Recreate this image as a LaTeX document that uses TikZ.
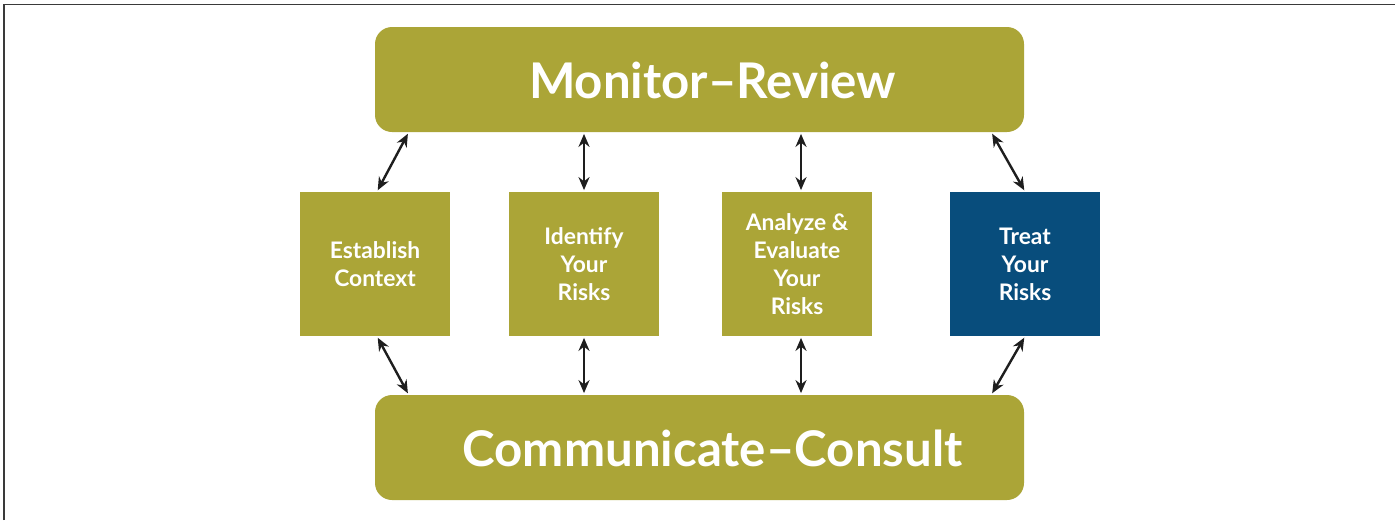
\documentclass[tikz,border=0pt]{standalone}
\usepackage{fontspec}
\setmainfont{Lato}
\usetikzlibrary{arrows.meta,positioning}
\definecolor{riskolive}{HTML}{ABA537}
\definecolor{riskblue}{HTML}{084D7C}
\definecolor{linkgray}{HTML}{1E1E1E}
\definecolor{framegray}{HTML}{3A3A3A}

\begin{document}
\begin{tikzpicture}[x=0.5pt, y=-0.5pt,
    phase/.style={fill=riskolive, minimum width=324.5pt, minimum height=52.5pt,
                  rounded corners=8.5pt, inner sep=0pt},
    phasetext/.style={text=white, xshift=6.5pt, yshift=-0.5pt, font=\bfseries\fontsize{24.6}{30}\selectfont},
    stage/.style={fill=riskolive, text=white, minimum width=75pt, minimum height=72pt,
                  inner sep=0pt, align=center, font=\bfseries\fontsize{11.4}{14}\selectfont},
    link/.style={{Stealth[length=6.5pt,width=5.5pt]}-{Stealth[length=6.5pt,width=5.5pt]},
                 line width=1.2pt, draw=linkgray, shorten <=0.75pt, shorten >=0.75pt}]
  \useasboundingbox (0,0) rectangle (1395,520);
  % frame (top and left edges only)
  \draw[framegray, line width=0.75pt] (4,520) -- (4,4.5) -- (1395,4.5);

  % the two long bars
  \node[phase, label={[phasetext]center:Monitor--Review}] (monitor) at (699.5,79.5) {};
  \node[phase, label={[phasetext]center:Communicate--Consult}] (consult) at (699.5,447.5) {};

  % the four steps
  \node[stage] (establish) at (375,264) {Establish\\Context};
  \node[stage] (identify) at (584,264) {Identify\\Your\\Risks};
  \node[stage] (analyze) at (797,264) {Analyze \&\\Evaluate\\Your\\Risks};
  \node[stage, fill=riskblue] (treat) at (1025,264) {Treat\\Your\\Risks};

  % links
  \draw[link] ([xshift=1pt]establish.north) -- ([xshift=17pt]monitor.south west);
  \draw[link] ([xshift=1pt]establish.south) -- ([xshift=17pt]consult.north west);
  \draw[link] (identify.north) -- (identify.north |- monitor.south);
  \draw[link] (identify.south) -- (identify.south |- consult.north);
  \draw[link] ([xshift=2pt]analyze.north) -- ([xshift=2pt]analyze.north |- monitor.south);
  \draw[link] ([xshift=2pt]analyze.south) -- ([xshift=2pt]analyze.south |- consult.north);
  \draw[link] (treat.north) -- ([xshift=-16.5pt]monitor.south east);
  \draw[link] (treat.south) -- ([xshift=-16.5pt]consult.north east);
\end{tikzpicture}
\end{document}
